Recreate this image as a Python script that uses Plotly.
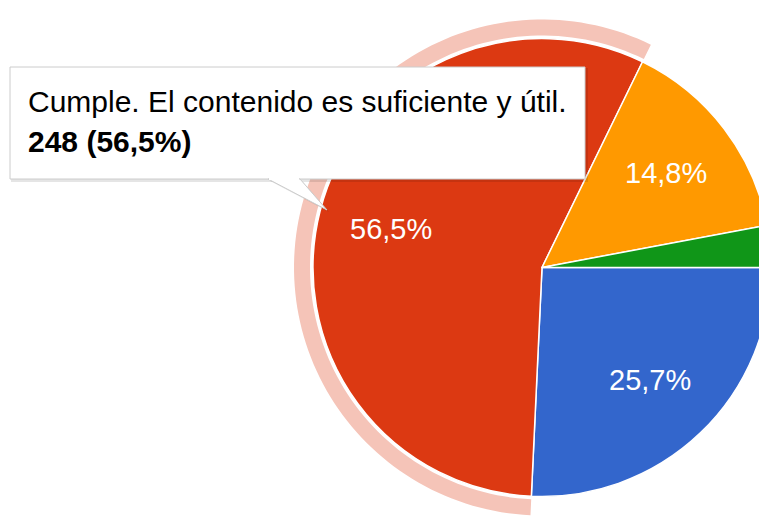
import math
import plotly.graph_objects as go

# ---------------- data ----------------
labels = [
    "Cumple parcialmente. El contenido es útil pero insuficiente.",
    "Cumple. El contenido es suficiente y útil.",
    "Cumple con observaciones.",
    "No cumple.",
]
values = [113, 248, 65, 13]
colors = ["#3366cc", "#dc3912", "#ff9900", "#109618"]
highlight = 1  # index of the hovered slice (tooltip + halo)

# ---------------- layout constants ----------------
FIG_W, FIG_H = 800, 530
OFF = 0                               # page body margin (removed by post_script)
CX, CY, R = 542, 267.5, 229           # pie centre / radius in page pixels (y from top)
ROT = 90                              # first slice starts at 3 o'clock
LABEL_R = 0.68                        # radial position of slice labels
FONT = "Arial, Liberation Sans, sans-serif"

total = sum(values)
fracs = [v / total for v in values]


def px(x, y):
    """page pixel (y from top) -> paper coordinates"""
    return (x - OFF) / FIG_W, 1 - (y - OFF) / FIG_H


dx0, dy1 = px(CX - R, CY - R)
dx1, dy0 = px(CX + R, CY + R)

fig = go.Figure()
fig.add_trace(go.Pie(
    labels=labels,
    values=values,
    sort=False,
    direction="clockwise",
    rotation=ROT,
    marker=dict(colors=colors, line=dict(color="white", width=1.5)),
    textinfo="none",
    domain=dict(x=[dx0, dx1], y=[dy0, dy1]),
    showlegend=False,
    hoverinfo="label+value+percent",
))

annotations = []
# slice labels (Google style, placed along the mid angle)
cum = 0
for v, f in zip(values, fracs):
    mid = cum + f / 2
    cum += f
    if f < 0.05:
        continue
    th = math.radians(ROT - 90 + 360 * mid)
    x, y = px(CX + LABEL_R * R * math.cos(th), CY + LABEL_R * R * math.sin(th))
    annotations.append(dict(text=f"{100 * f:.1f}%".replace(".", ","), x=x, y=y,
                            xref="paper", yref="paper", showarrow=False,
                            xanchor="center", yanchor="middle",
                            font=dict(family=FONT, size=29, color="white")))

# ---------------- halo around highlighted slice ----------------
f0 = sum(fracs[:highlight])
f1 = f0 + fracs[highlight]
r_in, r_out = R + 3, R + 19
n = 120
pts = []
for i in range(n + 1):
    th = math.radians(ROT - 90 + 360 * (f0 + (f1 - f0) * i / n))
    pts.append(px(CX + r_out * math.cos(th), CY + r_out * math.sin(th)))
for i in range(n, -1, -1):
    th = math.radians(ROT - 90 + 360 * (f0 + (f1 - f0) * i / n))
    pts.append(px(CX + r_in * math.cos(th), CY + r_in * math.sin(th)))
path = "M " + " L ".join(f"{x:.5f},{y:.5f}" for x, y in pts) + " Z"

shapes = [dict(type="path", path=path, xref="paper", yref="paper",
               fillcolor="#f5c4b8", line=dict(width=0), layer="below")]

# ---------------- tooltip ----------------
bx0, by0, bx1, by1 = 10, 67, 585, 179
tail = [(268, by1), (327, 210), (300, by1)]


def rect(x0, y0, x1, y1, **kw):
    a = px(x0, y0)
    b = px(x1, y1)
    return dict(type="rect", xref="paper", yref="paper", x0=a[0], y0=b[1], x1=b[0], y1=a[1],
                layer="above", **kw)


def poly(points, **kw):
    p = [px(x, y) for x, y in points]
    d = "M " + " L ".join(f"{x:.5f},{y:.5f}" for x, y in p) + " Z"
    return dict(type="path", path=d, xref="paper", yref="paper", layer="above", **kw)


# soft shadow
shapes.append(rect(bx0 + 1, by0 + 1, bx1 + 3, by1 + 3, fillcolor="rgba(0,0,0,0.10)", line=dict(width=0)))
shapes.append(poly([(x + 2, y + 2) for x, y in tail], fillcolor="rgba(0,0,0,0.10)", line=dict(width=0)))
# box
shapes.append(rect(bx0, by0, bx1, by1, fillcolor="white", line=dict(color="#cccccc", width=1)))
# tail
shapes.append(poly(tail, fillcolor="white", line=dict(color="#cccccc", width=1)))
# hide box border where tail joins
a = px(tail[0][0] + 1, by1)
b = px(tail[2][0] - 1, by1)
shapes.append(dict(type="line", xref="paper", yref="paper", x0=a[0], y0=a[1], x1=b[0], y1=b[1],
                   line=dict(color="white", width=2), layer="above"))

pct = f"{100 * fracs[highlight]:.1f}".replace(".", ",")
tx, _ = px(26, 0)
annotations += [
    dict(text=labels[highlight], x=tx, y=px(0, 102)[1], xref="paper", yref="paper",
         xanchor="left", yanchor="middle", showarrow=False,
         font=dict(family=FONT, size=30, color="#000000")),
    dict(text=f"<b>{values[highlight]} ({pct}%)</b>", x=tx, y=px(0, 141)[1], xref="paper", yref="paper",
         xanchor="left", yanchor="middle", showarrow=False,
         font=dict(family=FONT, size=30, color="#000000")),
]

fig.update_layout(
    width=FIG_W, height=FIG_H,
    margin=dict(l=0, r=0, t=0, b=0),
    paper_bgcolor="white", plot_bgcolor="white",
    separators=", ",
    shapes=shapes,
    annotations=annotations,
    showlegend=False,
)

fig.write_html(
    "out.html",
    config={"displayModeBar": False},
    post_script="document.body.style.margin='0';document.body.style.overflow='hidden';"
                "document.documentElement.style.overflow='hidden';",
)
